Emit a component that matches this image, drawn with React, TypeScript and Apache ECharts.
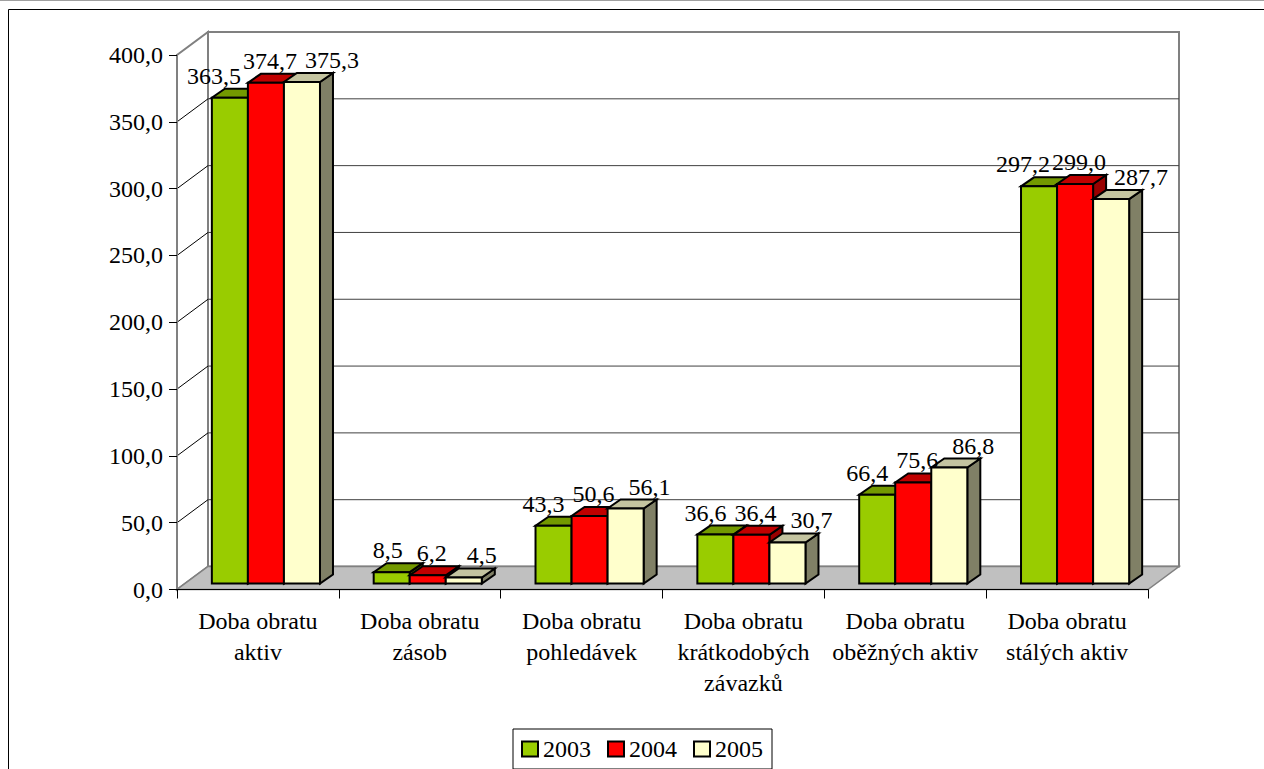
import React, { useEffect, useRef } from "react";
import * as echarts from "echarts";

const CATEGORIES = [
  "Doba obratu\naktiv",
  "Doba obratu\nzásob",
  "Doba obratu\npohledávek",
  "Doba obratu\nkrátkodobých\nzávazků",
  "Doba obratu\noběžných aktiv",
  "Doba obratu\nstálých aktiv",
];
const YEARS = ["2003", "2004", "2005"];
const V2003 = [363.5, 8.5, 43.3, 36.6, 66.4, 297.2];
const V2004 = [374.7, 6.2, 50.6, 36.4, 75.6, 299.0];
const V2005 = [375.3, 4.5, 56.1, 30.7, 86.8, 287.7];
const SERIES_VALUES = [V2003, V2004, V2005];
const Y_TICKS = [0, 50, 100, 150, 200, 250, 300, 350, 400];

const FRONT = ["#99CC00", "#FF0000", "#FFFFCC"];
const TOP = ["#739900", "#C00000", "#C4C4A0"];
const SIDE = ["#4D6600", "#990000", "#808066"];

const FONT = "Liberation Serif, Times New Roman, serif";
const WALL_DEPTH = [31, -23];
const BAR_SHIFT = [8, -6];
const BAR_DEPTH = [13, -9];
const BAR_RATIO = 0.2227;
const LABEL_ALIGN = ["right", "center", "left"];
const LABEL_DX = [11, 4, 3];

const fmt = (v: number) => v.toFixed(1).replace(".", ",");

function renderWalls(params: any, api: any) {
  const cs = params.coordSys;
  const x0 = cs.x;
  const x1 = cs.x + cs.width;
  const yT = cs.y;
  const yB = cs.y + cs.height;
  const [dx, dy] = WALL_DEPTH;
  const children: any[] = [];
  children.push({
    type: "polygon",
    shape: { points: [[x0, yB], [x0, yT], [x0 + dx, yT + dy], [x0 + dx, yB + dy]] },
    style: { fill: "#fff", stroke: "#808080", lineWidth: 2 },
  });
  children.push({
    type: "rect",
    shape: { x: x0 + dx, y: yT + dy, width: x1 - x0, height: yB - yT },
    style: { fill: "#fff", stroke: "#808080", lineWidth: 2 },
  });
  children.push({
    type: "polygon",
    shape: { points: [[x0, yB], [x1, yB], [x1 + dx, yB + dy], [x0 + dx, yB + dy]] },
    style: { fill: "#C0C0C0", stroke: "#808080", lineWidth: 1.5 },
  });
  for (const v of Y_TICKS) {
    if (v <= Y_TICKS[0] || v >= Y_TICKS[Y_TICKS.length - 1]) continue;
    const y = api.coord([0, v])[1];
    children.push({
      type: "line",
      shape: { x1: x0 + dx, y1: y + dy, x2: x1 + dx, y2: y + dy },
      style: { stroke: "#404040", lineWidth: 1 },
    });
    children.push({
      type: "line",
      shape: { x1: x0, y1: y, x2: x0 + dx, y2: y + dy },
      style: { stroke: "#000", lineWidth: 1 },
    });
  }
  return { type: "group", children };
}

function barGeom(s: number, api: any) {
  const i = api.value(0);
  const v = api.value(1);
  const top = api.coord([i, v]);
  const base = api.coord([i, 0]);
  const band = api.size([1, 0])[0];
  const bw = band * BAR_RATIO;
  const x0 = top[0] - 1.5 * bw + s * bw + BAR_SHIFT[0];
  return { v, x0, x1: x0 + bw, bw, yT: top[1] + BAR_SHIFT[1], yB: base[1] + BAR_SHIFT[1] };
}

const renderBar = (s: number) => (params: any, api: any) => {
  const { x0, x1, bw, yT, yB } = barGeom(s, api);
  const [dx, dy] = BAR_DEPTH;
  const st = { stroke: "#000", lineWidth: 2, lineJoin: "miter" };
  return {
    type: "group",
    children: [
      {
        type: "polygon",
        shape: { points: [[x1, yT], [x1 + dx, yT + dy], [x1 + dx, yB + dy], [x1, yB]] },
        style: { ...st, fill: SIDE[s] },
      },
      {
        type: "polygon",
        shape: { points: [[x0, yT], [x1, yT], [x1 + dx, yT + dy], [x0 + dx, yT + dy]] },
        style: { ...st, fill: TOP[s] },
      },
      {
        type: "rect",
        shape: { x: x0, y: yT, width: bw, height: yB - yT },
        style: { ...st, fill: FRONT[s] },
      },
    ],
  };
};

const renderLabel = (s: number) => (params: any, api: any) => {
  const { v, x0, bw, yT } = barGeom(s, api);
  const ax = x0 + bw / 2 + LABEL_DX[s];
  const cy = yT + BAR_DEPTH[1] - 13;
  return {
    type: "text",
    x: ax,
    y: cy,
    style: {
      text: fmt(v),
      align: LABEL_ALIGN[s],
      verticalAlign: "middle",
      fontFamily: FONT,
      fontSize: 24,
      fill: "#000",
    },
  };
};

export default function App() {
  const ref = useRef<HTMLDivElement>(null);
  useEffect(() => {
    if (!ref.current) return;
    const chart = echarts.init(ref.current, null, { renderer: "svg" });
    const series: any[] = [
      {
        type: "custom",
        name: "walls",
        silent: true,
        z: 1,
        data: [[0, 0]],
        encode: { x: 0, y: 1 },
        renderItem: renderWalls,
      },
    ];
    YEARS.forEach((name, s) => {
      series.push({
        type: "custom",
        name,
        z: 3,
        itemStyle: { color: FRONT[s] },
        data: SERIES_VALUES[s].map((v, i) => [i, v]),
        encode: { x: 0, y: 1 },
        renderItem: renderBar(s),
      });
    });
    YEARS.forEach((name, s) => {
      series.push({
        type: "custom",
        name: name + " labels",
        z: 5,
        silent: true,
        data: SERIES_VALUES[s].map((v, i) => [i, v]),
        encode: { x: 0, y: 1 },
        renderItem: renderLabel(s),
      });
    });
    chart.setOption({
      animation: false,
      backgroundColor: "#fff",
      textStyle: { fontFamily: FONT },
      grid: { left: 177, right: 116, top: 55, bottom: 179.5, containLabel: false },
      xAxis: {
        type: "category",
        data: CATEGORIES,
        boundaryGap: true,
        z: 10,
        axisLine: { show: true, lineStyle: { color: "#000", width: 1 } },
        axisTick: { show: true, length: 9, alignWithLabel: false, lineStyle: { color: "#000" } },
        axisLabel: {
          interval: 0,
          margin: 16,
          fontFamily: FONT,
          fontSize: 24,
          lineHeight: 31,
          color: "#000",
        },
        splitLine: { show: false },
      },
      yAxis: {
        type: "value",
        min: Y_TICKS[0],
        max: Y_TICKS[Y_TICKS.length - 1],
        interval: Y_TICKS[1] - Y_TICKS[0],
        z: 10,
        axisLine: { show: true, lineStyle: { color: "#808080", width: 2 } },
        axisTick: { show: true, length: 8, lineStyle: { color: "#000" } },
        axisLabel: {
          margin: 14,
          fontFamily: FONT,
          fontSize: 24,
          color: "#000",
          formatter: (v: number) => fmt(v),
        },
        splitLine: { show: false },
      },
      legend: {
        left: 513,
        top: 729,
        orient: "horizontal",
        padding: [8, 9, 8, 8],
        borderColor: "#000",
        borderWidth: 1,
        backgroundColor: "#fff",
        itemWidth: 16,
        itemHeight: 15,
        itemGap: 16,
        textStyle: { fontFamily: FONT, fontSize: 24, color: "#000" },
        data: YEARS.map((name, s) => ({
          name,
          icon: "rect",
          itemStyle: { color: FRONT[s], borderColor: "#000", borderWidth: 2 },
        })),
        selectedMode: false,
      },
      graphic: [
        {
          type: "line",
          shape: { x1: 0, y1: 0.5, x2: 1264, y2: 0.5 },
          style: { stroke: "#a0a0a0", lineWidth: 1 },
        },
        {
          type: "rect",
          shape: { x: 8.5, y: 9.5, width: 1400, height: 900 },
          style: { fill: "none", stroke: "#000", lineWidth: 1 },
        },
      ],
      series,
    });
    return () => chart.dispose();
  }, []);
  return (
    <div
      ref={ref}
      style={{ position: "fixed", left: 0, top: 0, width: 1264, height: 769, background: "#fff" }}
    />
  );
}
